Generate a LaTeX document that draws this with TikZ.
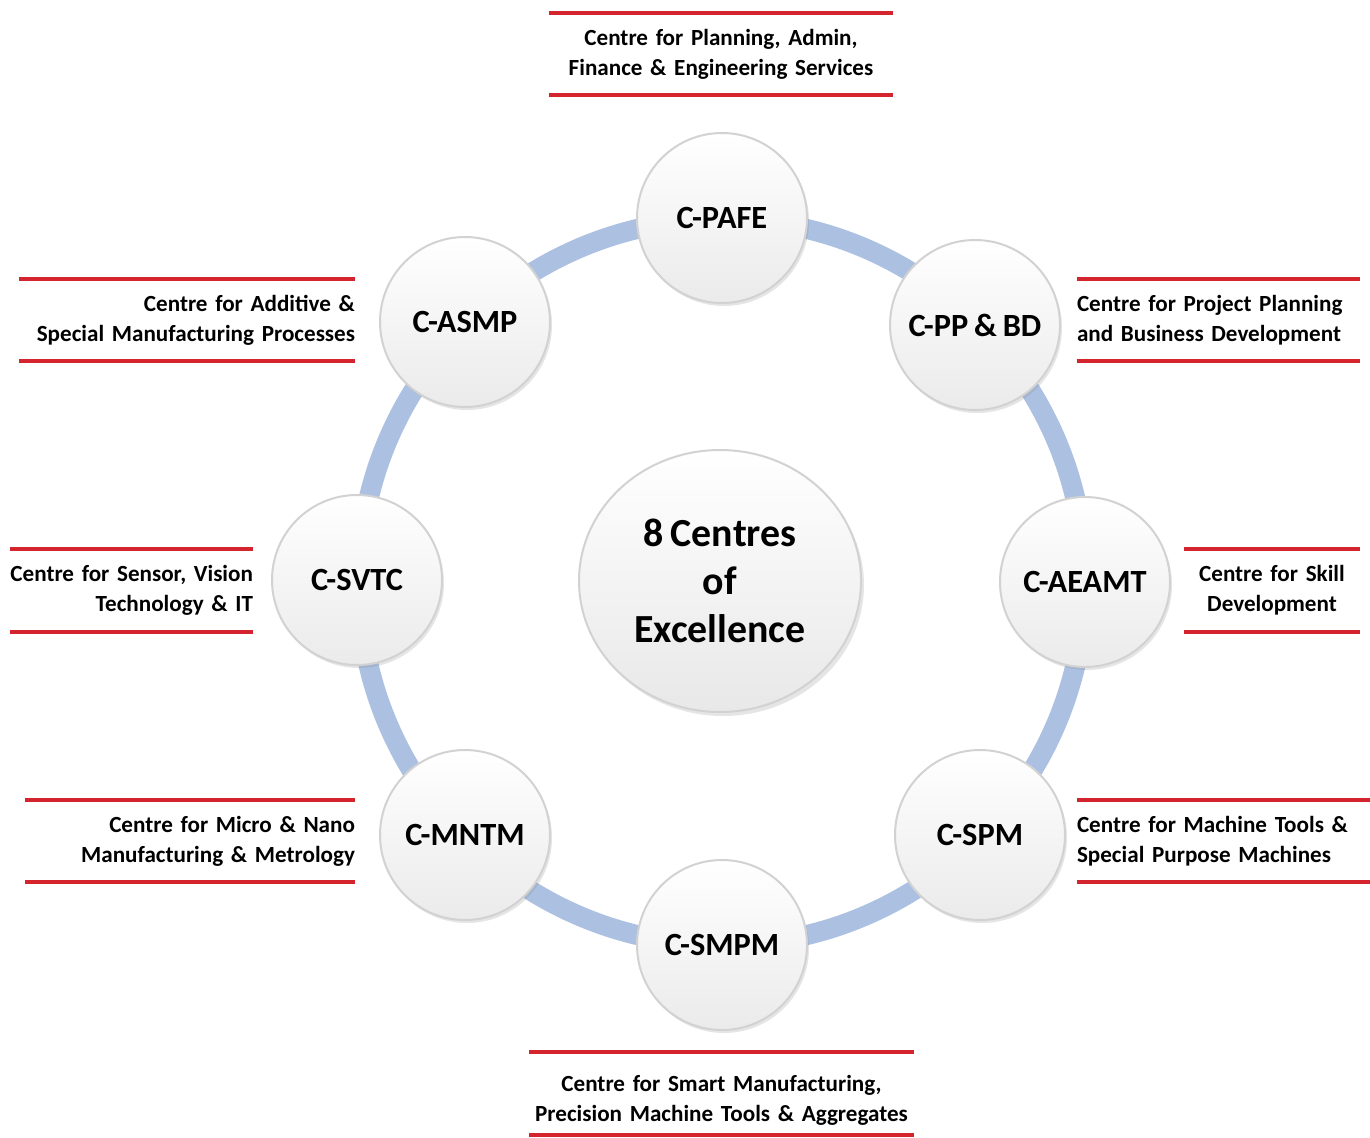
\documentclass[tikz,border=0pt]{standalone}
\usepackage{fontspec}
\setmainfont[WordSpace=0.8]{Carlito}
\usetikzlibrary{shapes.geometric,shadows}
\definecolor{rulered}{RGB}{212,36,46}
\definecolor{ringblue}{RGB}{172,193,226}

\begin{document}
\begin{tikzpicture}[x=1bp,y=-1bp]
\tikzstyle{every node}+=[inner sep=0pt]
\tikzstyle{centre}=[circle, minimum size=170bp, draw=gray!35, line width=2bp, top color=white, bottom color=gray!16, drop shadow={shadow xshift=2bp,shadow yshift=-3bp,opacity=0.2}, font=\fontsize{32.5}{38}\selectfont\bfseries]
\tikzstyle{hub}=[ellipse, minimum width=282bp, minimum height=262bp, draw=gray!35, line width=2bp, top color=white, bottom color=gray!18, drop shadow={shadow xshift=3bp,shadow yshift=-4bp,opacity=0.2}, align=center, font=\fontsize{40}{48}\selectfont\bfseries]
\tikzstyle{desc}=[minimum height=82bp, font=\fontsize{23.2}{30}\selectfont\bfseries]
\tikzstyle{rule}=[draw=rulered, line width=4bp]
\fill[white] (0,0) rectangle (1370,1137);
\useasboundingbox (0,0) rectangle (1370,1137);
% ring behind the centres
\coordinate (o) at (722,582);
\draw[ringblue, line width=20bp] (o) circle (363);
% centres
\node[centre] (pafe) at (722,218) {C-PAFE};
\node[centre] (ppbd) at (975,325) {C-PP \& BD};
\node[centre] (aeamt) at (1085,582) {C-AEAMT};
\node[centre] (spm) at (980,835) {C-SPM};
\node[centre] (smpm) at (722,945) {C-SMPM};
\node[centre] (mntm) at (465,835) {C-MNTM};
\node[centre] (svtc) at (357,580) {C-SVTC};
\node[centre] (asmp) at (465,322) {C-ASMP};
\node[hub] (hub) at (720,581) {8 Centres\\of\\Excellence};
% full names
\node[desc, text width=344bp, align=center] (pafe-d) at (721,54) {Centre for Planning, Admin,\\Finance \& Engineering Services};
\node[desc, text width=283bp, align=left] (ppbd-d) at (1218.5,320) {Centre for Project Planning\\and Business Development};
\node[desc, text width=176bp, align=center] (aeamt-d) at (1272,590.5) {Centre for Skill\\Development};
\node[desc, text width=293bp, align=left] (spm-d) at (1223.5,841) {Centre for Machine Tools \&\\Special Purpose Machines};
\node[desc, text width=385bp, align=center] (smpm-d) at (721.5,1093.5) {\rule{0pt}{30bp}Centre for Smart Manufacturing,\\Precision Machine Tools \& Aggregates};
\node[desc, text width=330bp, align=right] (mntm-d) at (190,841) {Centre for Micro \& Nano\\Manufacturing \& Metrology};
\node[desc, text width=243bp, align=right] (svtc-d) at (131.5,590.5) {Centre for Sensor, Vision\\Technology \& IT};
\node[desc, text width=336bp, align=right] (asmp-d) at (187,320) {Centre for Additive \&\\Special Manufacturing Processes};
\foreach \d in {pafe-d,ppbd-d,aeamt-d,spm-d,smpm-d,mntm-d,svtc-d,asmp-d}
  \draw[rule] (\d.north west) -- (\d.north east) (\d.south west) -- (\d.south east);
\end{tikzpicture}
\end{document}
